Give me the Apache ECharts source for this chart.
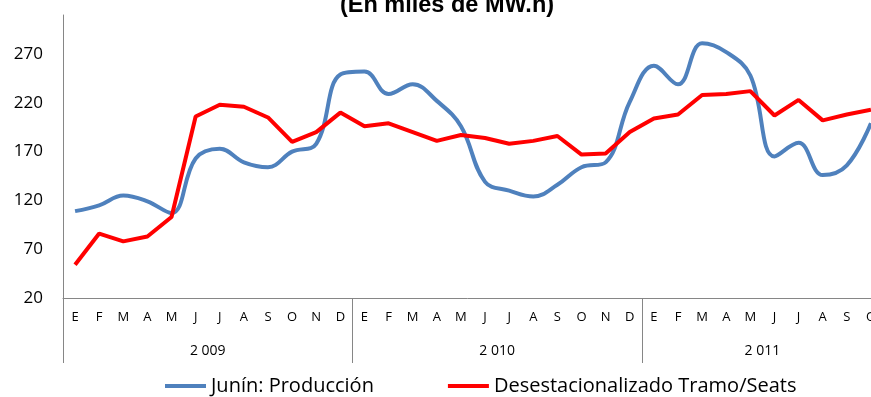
<!DOCTYPE html>
<html>
<head>
<meta charset="utf-8">
<script src="https://cdn.jsdelivr.net/npm/echarts@6/dist/echarts.min.js"></script>
<style>
  html, body { margin: 0; padding: 0; background: #ffffff; }
  #chart { width: 871px; height: 397px; }
</style>
</head>
<body>
<div id="chart"></div>
<script>
// Monthly electricity output, Junín (thousands of MW.h)
const months = [
  'E','F','M','A','M','J','J','A','S','O','N','D',
  'E','F','M','A','M','J','J','A','S','O','N','D',
  'E','F','M','A','M','J','J','A','S','O'
];
const years = ['2 009', '2 010', '2 011'];
const monthsInYear = [12, 12, 10];

const produccion = [
  109, 115, 125, 119, 107, 163, 173, 159, 154, 170, 178, 249,
  252, 229, 239, 222, 196, 139, 130, 124, 136, 154, 159, 221,
  258, 239, 281, 272, 248, 165, 179, 146, 156, 199
];
const desestacionalizado = [
  54, 86, 78, 83, 103, 206, 218, 216, 205, 180, 190, 210,
  196, 199, 190, 181, 187, 184, 178, 181, 186, 167, 168, 190,
  204, 208, 228, 229, 232, 207, 223, 202, 208, 213
];

const yTicks = { min: 20, max: 310, step: 50 };

// year captions sit at the middle of each year's block of months
const yearCenters = {};
let start = 0;
monthsInYear.forEach((n, i) => {
  yearCenters[start + n / 2] = years[i];
  start += n;
});
const yearStarts = new Set([0]);
monthsInYear.reduce((acc, n) => { yearStarts.add(acc); return acc + n; }, 0);

const axisGray = '#868686';
const textFont = '"Open Sans", sans-serif';

const chart = echarts.init(document.getElementById('chart'), null, { renderer: 'canvas' });
chart.setOption({
  animation: false,
  backgroundColor: '#ffffff',
  title: {
    text: '(En miles de MW.h)',
    left: 442,
    top: -11,
    textAlign: 'center',
    textStyle: {
      fontFamily: '"Liberation Sans", Arial, sans-serif',
      fontWeight: 'bold',
      fontSize: 23.5,
      color: '#000000'
    }
  },
  legend: {
    left: 165,
    top: 376,
    padding: 0,
    itemGap: 74,
    itemWidth: 41,
    itemHeight: 4,
    icon: 'rect',
    textStyle: { fontFamily: textFont, fontSize: 20, color: '#000000' },
    data: ['Junín: Producción', 'Desestacionalizado Tramo/Seats']
  },
  grid: {
    left: 63, right: -12, top: 15, bottom: 99,
    containLabel: false,
    outerBoundsMode: 'none'
  },
  xAxis: [
    {
      type: 'category',
      data: months,
      boundaryGap: true,
      axisLine: { show: true, lineStyle: { color: axisGray, width: 1 } },
      axisTick: {
        show: true,
        length: 65,
        interval: (index) => yearStarts.has(index),
        lineStyle: { color: axisGray, width: 1 }
      },
      axisLabel: {
        interval: 0,
        margin: 13,
        fontFamily: textFont,
        fontSize: 13,
        color: '#000000'
      },
      splitLine: { show: false }
    },
    {
      type: 'value',
      position: 'bottom',
      min: 0,
      max: months.length,
      interval: 1,
      axisLine: { show: false },
      axisTick: { show: false },
      splitLine: { show: false },
      axisLabel: {
        margin: 46,
        showMinLabel: true,
        showMaxLabel: true,
        fontFamily: textFont,
        fontSize: 14,
        color: '#000000',
        formatter: (v) => yearCenters[v] || ''
      }
    }
  ],
  yAxis: {
    type: 'value',
    min: yTicks.min,
    max: yTicks.max,
    interval: yTicks.step,
    axisLine: { show: true, lineStyle: { color: axisGray, width: 1 } },
    axisTick: { show: false },
    splitLine: { show: false },
    axisLabel: {
      margin: 20,
      showMaxLabel: false,
      fontFamily: textFont,
      fontSize: 17,
      color: '#000000'
    }
  },
  series: [
    {
      name: 'Junín: Producción',
      type: 'line',
      xAxisIndex: 0,
      data: produccion,
      smooth: 0.4,
      symbol: 'none',
      color: '#4F81BD',
      lineStyle: { color: '#4F81BD', width: 4 }
    },
    {
      name: 'Desestacionalizado Tramo/Seats',
      type: 'line',
      xAxisIndex: 0,
      data: desestacionalizado,
      smooth: false,
      symbol: 'none',
      color: '#FF0000',
      lineStyle: { color: '#FF0000', width: 4 }
    }
  ]
});
</script>
</body>
</html>
